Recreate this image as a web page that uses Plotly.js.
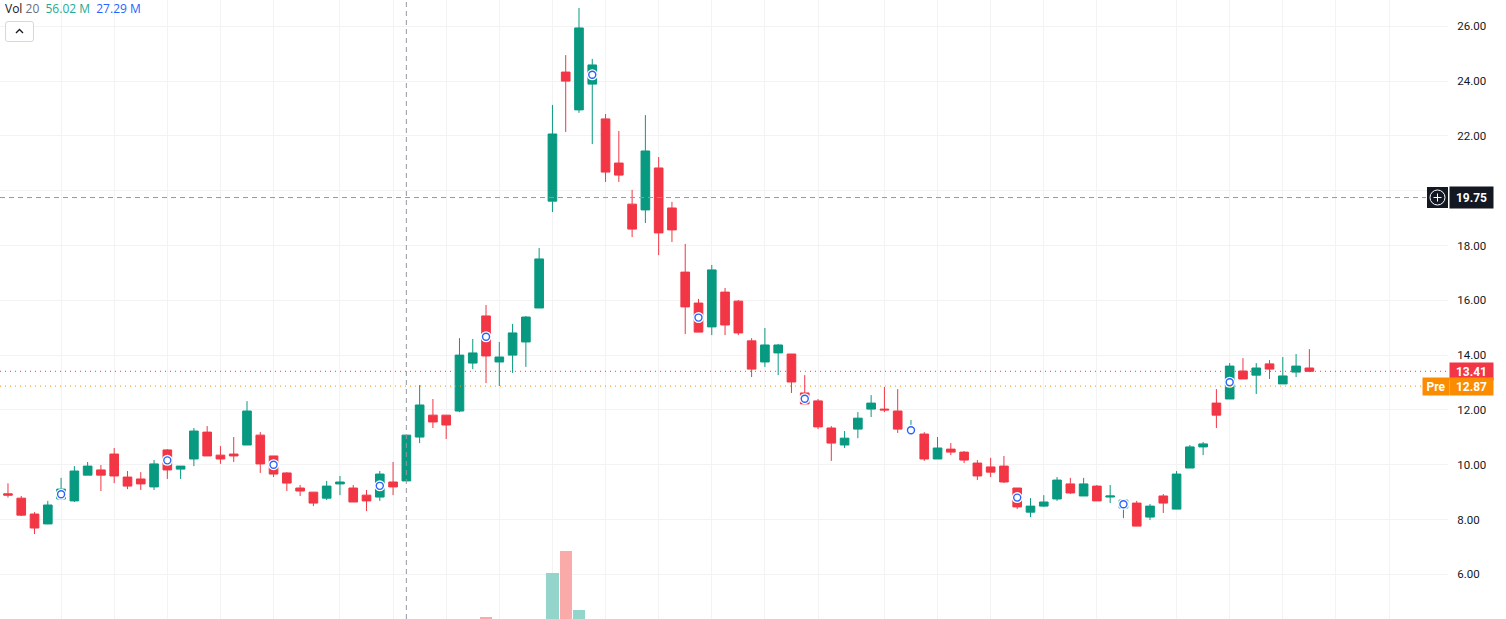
<!DOCTYPE html>
<html>
<head>
<meta charset="utf-8">
<script src="https://cdn.plot.ly/plotly-3.0.1.min.js"></script>
<style>html,body{margin:0;padding:0;background:#fff;overflow:hidden}#chart{width:1506px;height:619px}</style>
</head>
<body>
<div id="chart"></div>
<script>
const open_ = [8.94,8.78,8.20,7.84,8.75,8.68,9.62,9.81,10.39,9.55,9.48,9.19,10.54,9.84,10.21,11.19,10.35,10.39,10.72,11.08,10.32,9.70,9.15,9.00,8.78,9.30,9.15,8.89,8.82,9.37,9.41,11.01,11.81,11.81,11.96,13.71,15.43,13.75,14.00,14.48,15.72,19.62,24.33,22.95,23.89,22.62,21.01,19.51,19.30,20.83,19.37,17.03,15.90,15.03,16.30,15.97,14.52,13.75,14.08,14.04,12.62,12.33,11.34,10.72,11.30,12.03,12.03,11.96,11.19,11.12,10.21,10.57,10.46,10.06,9.92,9.95,9.15,8.27,8.49,8.75,9.30,8.86,9.22,8.82,8.42,8.60,8.09,8.86,8.38,9.88,10.65,12.25,12.40,13.42,13.27,13.68,12.95,13.38,13.53];
const high = [9.32,8.86,8.27,8.68,9.52,9.95,10.10,9.99,10.61,9.77,9.73,10.17,10.57,9.95,11.34,11.41,10.68,11.01,12.32,11.19,10.32,9.73,9.26,9.00,9.41,9.59,9.26,9.08,9.77,10.10,11.08,12.91,12.40,11.81,14.62,14.59,15.83,14.48,15.14,15.43,17.91,23.13,24.95,26.67,24.81,22.80,22.18,20.03,22.76,21.23,19.59,18.06,16.05,17.29,16.45,16.01,14.62,14.99,14.41,14.04,13.27,12.40,11.41,11.23,11.92,12.54,12.84,12.76,11.63,11.19,11.01,10.79,10.50,10.17,10.25,10.32,9.15,8.78,8.89,9.55,9.52,9.52,9.26,9.26,8.71,8.68,8.57,8.93,9.77,10.72,10.83,12.76,13.71,13.89,13.71,13.82,13.93,14.04,14.22];
const low = [8.80,8.13,7.47,7.83,8.75,8.64,9.62,9.04,9.33,9.11,9.08,9.08,9.48,9.48,9.95,10.32,10.03,10.10,10.72,9.70,9.55,9.04,8.86,8.49,8.71,8.89,8.64,8.31,8.68,8.89,9.41,10.79,11.34,10.94,11.92,13.49,12.98,12.87,13.35,13.57,15.72,19.22,22.14,22.84,21.70,20.32,20.32,18.31,18.82,17.65,18.13,14.77,14.84,14.73,14.73,14.73,13.20,13.57,13.27,12.62,12.22,11.30,10.14,10.61,10.97,11.74,11.92,11.16,11.19,10.14,10.21,10.35,10.06,9.44,9.55,9.33,8.38,8.09,8.46,8.68,8.93,8.86,8.68,8.60,8.05,7.76,7.98,8.24,8.38,9.88,10.35,11.34,12.40,13.13,12.58,13.13,12.95,13.20,13.38];
const close_ = [8.89,8.16,7.69,8.53,9.11,9.77,9.95,9.62,9.59,9.22,9.30,10.03,9.81,9.95,11.23,10.32,10.21,10.32,11.96,10.03,9.66,9.33,9.04,8.60,9.22,9.37,8.64,8.68,9.66,9.19,11.08,12.18,11.56,11.45,14.00,14.08,13.97,13.93,14.81,15.39,17.51,22.07,24.00,25.94,24.59,20.68,20.57,18.60,21.45,18.46,18.57,15.76,14.84,17.11,15.10,14.81,13.49,14.37,14.37,13.02,12.22,11.38,10.79,10.97,11.70,12.25,12.00,11.30,11.34,10.21,10.61,10.46,10.17,9.59,9.73,9.37,8.46,8.49,8.64,9.44,8.97,9.30,8.68,8.86,8.71,7.76,8.49,8.60,9.66,10.65,10.76,11.81,13.60,13.13,13.53,13.49,13.24,13.60,13.41];
const sessions = open_.map((_, i) => i);

const eventSessions = [4,12,20,28,36,44,52,60,68,76,84,92];
const eventPrices = [8.92,10.16,10.00,9.23,14.67,24.23,15.37,12.41,11.26,8.80,8.56,13.01];

const volumeSessions = [36,41,42,43];
const volumes = [110,330,440,145];
const volumeColors = ['#fbaaaa','#93d4cb','#fbaaaa','#93d4cb'];

const gridSessions = [4,8,12,16,20,25,29,33,37,41,45,49,53,57,61,66,70,74,78,82,88,92,96,100,104];
const priceTicks = [6,8,10,12,14,16,18,20,22,24,26];
const priceTickLabels = ['6.00','8.00','10.00','12.00','14.00','16.00','18.00','20.00','22.00','24.00','26.00'];

const crossSession = 30;
const crossPrice = 19.75;
const lastPrice = 13.41;
const prePrice = 12.87;

const GREEN = '#089981', RED = '#F23645', BLUE = '#2962FF', ORANGE = '#FB8C00', INK = '#131722';
const FONT = '"Open Sans","Liberation Sans",Arial,sans-serif';
const AXISFONT = 'Roboto,"Liberation Sans",Arial,sans-serif';
const PW = 1448, PH = 619;
const px = v => v / PW, py = v => 1 - v / PH;

const traces = [
  {type:'bar', x:volumeSessions, y:volumes, yaxis:'y2', width:0.93, marker:{color:volumeColors, line:{width:0}}, hoverinfo:'skip', base:0},
  {type:'candlestick', x:sessions, open:open_, high:high, low:low, close:close_, hoverinfo:'skip', whiskerwidth:0,
   increasing:{line:{color:GREEN,width:1}, fillcolor:GREEN},
   decreasing:{line:{color:RED,width:1}, fillcolor:RED}},
  {type:'scatter', mode:'markers', x:eventSessions, y:eventPrices, hoverinfo:'skip',
   marker:{size:11, color:'#ffffff', line:{width:0}}},
  {type:'scatter', mode:'markers', x:eventSessions, y:eventPrices, hoverinfo:'skip',
   marker:{size:7, color:'#ffffff', line:{width:1.4, color:BLUE}}}
];

const chip = (text, y, bg, xs, w, extra) => Object.assign({
  text, xref:'paper', yref:'y', x:1, y, xanchor:'left', yanchor:'middle', xshift:xs, showarrow:false,
  bgcolor:bg, width:w, height:17, borderpad:0, align:'center',
  font:{family:AXISFONT, size:12, color:'#ffffff', weight:700}
}, extra || {});

const layout = {
  width:1506, height:619, showlegend:false, paper_bgcolor:'#ffffff', plot_bgcolor:'#ffffff',
  margin:{l:0,r:58,t:0,b:0}, bargap:0, boxgap:0.07, hovermode:false, dragmode:false,
  xaxis:{type:'linear', range:[-0.60,108.44], tickmode:'array', tickvals:gridSessions, ticktext:gridSessions.map(()=>''),
    showgrid:true, gridcolor:'#f3f3f3', gridwidth:1, zeroline:false, showline:false, ticks:'', rangeslider:{visible:false}},
  yaxis:{side:'right', range:[4.37,26.96], tickmode:'array', tickvals:priceTicks, ticktext:priceTickLabels,
    showgrid:true, gridcolor:'#f3f3f3', gridwidth:1, zeroline:false, showline:false,
    ticks:'outside', ticklen:6, tickcolor:'rgba(0,0,0,0)', tickfont:{family:AXISFONT,size:11.5,color:INK}},
  yaxis2:{overlaying:'y', side:'left', range:[100,3195], visible:false, fixedrange:true},
  shapes:[
    {type:'line', xref:'x', yref:'paper', x0:crossSession, x1:crossSession, y0:0, y1:1, line:{color:'#9598a1',width:1,dash:'5px,4px'}, layer:'above'},
    {type:'line', xref:'paper', yref:'y', x0:0, x1:px(1426), y0:crossPrice, y1:crossPrice, line:{color:'#9598a1',width:1,dash:'5px,4px'}, layer:'above'},
    {type:'line', xref:'paper', yref:'y', x0:0, x1:1, y0:lastPrice, y1:lastPrice, line:{color:RED,width:1,dash:'1px,4px'}, layer:'above'},
    {type:'line', xref:'paper', yref:'y', x0:0, x1:1, y0:prePrice, y1:prePrice, line:{color:ORANGE,width:1,dash:'1px,4px'}, layer:'above'},
    {type:'rect', xref:'paper', yref:'paper', x0:px(1427), x1:px(1448), y0:py(208), y1:py(187), fillcolor:'#131722', line:{width:0}, layer:'above'},
    {type:'circle', xref:'paper', yref:'paper', x0:px(1430), x1:px(1445), y0:py(205), y1:py(190), fillcolor:'rgba(0,0,0,0)', line:{color:'#ffffff',width:1}, layer:'above'},
    {type:'path', xref:'paper', yref:'paper', line:{color:'#ffffff',width:1}, layer:'above',
     path:`M ${px(1433.5)} ${py(197.5)} L ${px(1441.5)} ${py(197.5)} M ${px(1437.5)} ${py(193.5)} L ${px(1437.5)} ${py(201.5)}`},
    {type:'path', xref:'paper', yref:'paper', fillcolor:'#ffffff', line:{color:'#d6d8de',width:1}, layer:'above',
     path:`M ${px(8)} ${py(21.5)} L ${px(31)} ${py(21.5)} Q ${px(33.5)} ${py(21.5)} ${px(33.5)} ${py(24)} L ${px(33.5)} ${py(39)} Q ${px(33.5)} ${py(41.5)} ${px(31)} ${py(41.5)} L ${px(8)} ${py(41.5)} Q ${px(5.5)} ${py(41.5)} ${px(5.5)} ${py(39)} L ${px(5.5)} ${py(24)} Q ${px(5.5)} ${py(21.5)} ${px(8)} ${py(21.5)} Z`},
    {type:'path', xref:'paper', yref:'paper', line:{color:INK,width:1.3}, layer:'above',
     path:`M ${px(16)} ${py(33)} L ${px(19.5)} ${py(29.5)} L ${px(23)} ${py(33)}`}
  ],
  annotations:[
    {text:`<span style="color:${INK}">Vol</span> <span style="color:#6a6d78">20</span>  <span style="color:#22ab94">56.02 M</span>  <span style="color:${BLUE}">27.29 M</span>`,
     xref:'paper', yref:'paper', x:0, y:1, xanchor:'left', yanchor:'top', xshift:4, yshift:1, showarrow:false,
     font:{family:FONT,size:12}, borderpad:0},
    chip('19.75', crossPrice, '#131722', 1, 43, {height:21}),
    chip('13.41', lastPrice, RED, 1, 43),
    chip('12.87', prePrice, ORANGE, 1, 43),
    chip('Pre', prePrice, ORANGE, -26, 26)
  ]
};

Plotly.newPlot('chart', traces, layout, {displayModeBar:false, staticPlot:true});
</script>
</body>
</html>
